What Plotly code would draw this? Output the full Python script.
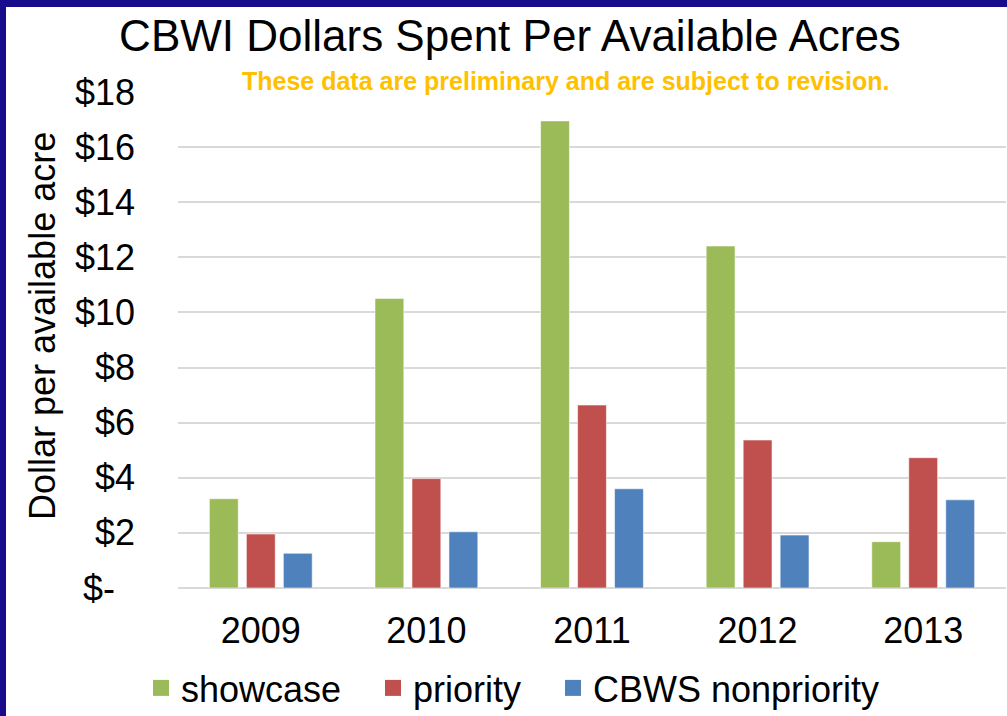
import plotly.graph_objects as go

years = ["2009", "2010", "2011", "2012", "2013"]
showcase = [3.24, 10.51, 16.95, 12.41, 1.68]
priority = [1.96, 3.97, 6.64, 5.37, 4.73]
nonpriority = [1.26, 2.04, 3.60, 1.92, 3.20]
series_names = ["showcase", "priority", "CBWS nonpriority"]
series_values = [showcase, priority, nonpriority]
colors = ["#9BBB59", "#C0504D", "#4F81BD"]
tick_vals = [0, 2, 4, 6, 8, 10, 12, 14, 16, 18]
tick_text = ["$-\u00a0\u00a0", "$2", "$4", "$6", "$8", "$10", "$12", "$14", "$16", "$18"]

W, H = 1007, 716
L, R, T, B = 178, 1, 92, 128
pw, ph = W - L - R, H - T - B

font = "Liberation Sans, Arial, sans-serif"

fig = go.Figure()
for name, vals, col in zip(series_names, series_values, colors):
    fig.add_trace(go.Bar(
        x=years, y=vals, name=name, showlegend=False,
        marker=dict(color=col, line=dict(color="rgba(255,255,255,0.55)", width=1)),
    ))
legend_widths = [187, 135, None]
for name, col, lw in zip(series_names, colors, legend_widths):
    fig.add_trace(go.Scatter(
        x=[None], y=[None], mode="markers", name=name,
        marker=dict(symbol="square", size=18, color=col),
        legendwidth=lw,
    ))


def px_x(x):
    return (x - L) / pw


def px_y(y):
    return (H - B - y) / ph


border = "#180C8C"
fig.add_shape(type="rect", xref="paper", yref="paper", x0=px_x(-5), x1=px_x(6),
              y0=px_y(H + 5), y1=px_y(-5), fillcolor=border, line_width=0, layer="above")
fig.add_shape(type="rect", xref="paper", yref="paper", x0=px_x(-5), x1=px_x(W + 5),
              y0=px_y(7), y1=px_y(-5), fillcolor=border, line_width=0, layer="above")

fig.add_annotation(text="These data are preliminary and are subject to revision.",
                   xref="paper", yref="paper", x=px_x(565.5), y=px_y(81),
                   showarrow=False, font=dict(family=font, size=25, color="#FFC000", weight="bold"),
                   xanchor="center", yanchor="middle")
fig.add_annotation(text="Dollar per available acre", textangle=-90,
                   xref="paper", yref="paper", x=px_x(42), y=px_y(326),
                   showarrow=False, font=dict(family=font, size=36, color="#000000"),
                   xanchor="center", yanchor="middle")

fig.update_layout(
    width=W, height=H,
    margin=dict(l=L, r=R, t=T, b=B),
    paper_bgcolor="white", plot_bgcolor="white",
    barmode="group", bargap=0.33, bargroupgap=0.22,
    title=dict(text="CBWI Dollars Spent Per Available Acres", x=510 / W, xref="container",
               xanchor="center", y=1 - 36 / H, yref="container", yanchor="middle",
               font=dict(family=font, size=44, color="#000000")),
    font=dict(family=font, size=36, color="#000000"),
    legend=dict(orientation="h", xref="container", yref="container",
                x=141 / W, xanchor="left", y=1 - 688 / H, yanchor="middle",
                font=dict(family=font, size=36, color="#000000"),
                itemsizing="trace", bgcolor="rgba(0,0,0,0)"),
    showlegend=True,
)
fig.update_xaxes(type="category", showgrid=False, showline=False, ticks="",
                 tickfont=dict(family=font, size=36, color="#000000"), ticklabelstandoff=18)
fig.update_yaxes(range=[0, 18], tickvals=tick_vals, ticktext=tick_text,
                 showgrid=True, gridcolor="#D9D9D9", gridwidth=1.5,
                 zeroline=True, zerolinecolor="#D9D9D9", zerolinewidth=1.5,
                 showline=False, ticks="", ticklabelstandoff=42,
                 tickfont=dict(family=font, size=36, color="#000000"))

fig.write_html("out.html", config={"displayModeBar": False},
               post_script="document.body.style.margin='0';document.body.style.overflow='hidden';")
